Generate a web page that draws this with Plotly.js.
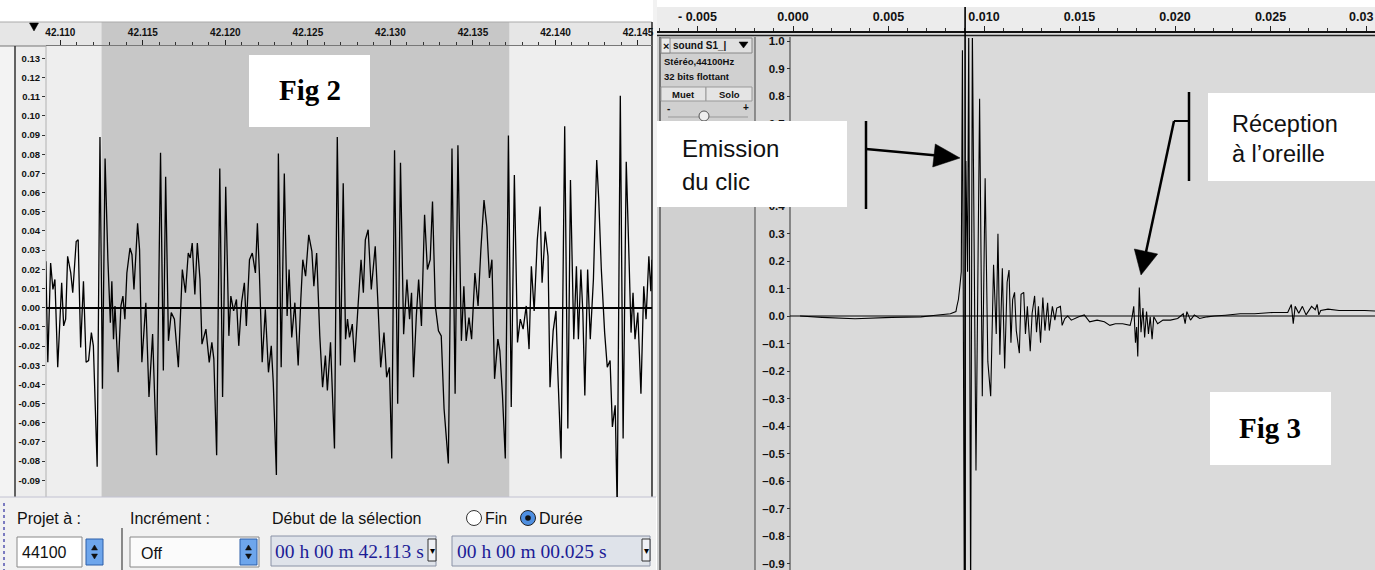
<!DOCTYPE html>
<html>
<head>
<meta charset="utf-8">
<script src="https://cdn.plot.ly/plotly-3.0.1.min.js"></script>
<style>html,body{margin:0;padding:0;background:#fff;}#chart{width:1375px;height:570px;}</style>
</head>
<body>
<div id="chart"></div>
<script>
// ---------------- DATA ----------------
// Fig 2 : waveform (time in s, amplitude)
const fig2Time = [42.10912,42.10924,42.10941,42.10955,42.10967,42.10984,42.11008,42.11020,42.11032,42.11044,
42.11063,42.11075,42.11096,42.11108,42.11123,42.11140,42.11156,42.11171,42.11188,42.11200,
42.11223,42.11240,42.11255,42.11271,42.11288,42.11303,42.11312,42.11322,42.11331,42.11350,
42.11367,42.11379,42.11391,42.11403,42.11422,42.11434,42.11446,42.11468,42.11480,42.11494,
42.11518,42.11537,42.11559,42.11583,42.11607,42.11624,42.11638,42.11655,42.11672,42.11691,
42.11715,42.11739,42.11758,42.11775,42.11787,42.11799,42.11815,42.11830,42.11846,42.11858,
42.11882,42.11902,42.11918,42.11930,42.11947,42.11966,42.11983,42.12002,42.12021,42.12033,
42.12050,42.12067,42.12081,42.12098,42.12115,42.12127,42.12146,42.12163,42.12182,42.12194,
42.12206,42.12223,42.12242,42.12261,42.12278,42.12290,42.12309,42.12321,42.12338,42.12357,
42.12374,42.12386,42.12402,42.12421,42.12441,42.12457,42.12469,42.12486,42.12505,42.12524,
42.12536,42.12553,42.12572,42.12589,42.12606,42.12618,42.12637,42.12661,42.12678,42.12697,
42.12714,42.12728,42.12740,42.12752,42.12769,42.12783,42.12805,42.12822,42.12836,42.12848,
42.12865,42.12884,42.12908,42.12925,42.12941,42.12961,42.12977,42.12994,42.13008,42.13025,
42.13044,42.13061,42.13080,42.13100,42.13116,42.13128,42.13140,42.13157,42.13171,42.13188,
42.13207,42.13224,42.13241,42.13255,42.13272,42.13291,42.13308,42.13325,42.13351,42.13373,
42.13392,42.13409,42.13430,42.13445,42.13459,42.13476,42.13492,42.13512,42.13531,42.13548,
42.13567,42.13584,42.13600,42.13615,42.13631,42.13651,42.13663,42.13679,42.13696,42.13715,
42.13732,42.13751,42.13770,42.13787,42.13804,42.13823,42.13840,42.13854,42.13871,42.13890,
42.13907,42.13919,42.13938,42.13955,42.13967,42.13986,42.14003,42.14015,42.14034,42.14056,
42.14075,42.14091,42.14111,42.14127,42.14139,42.14154,42.14166,42.14178,42.14195,42.14211,
42.14230,42.14250,42.14262,42.14278,42.14298,42.14314,42.14331,42.14345,42.14362,42.14374,
42.14393,42.14410,42.14429,42.14446,42.14458,42.14470,42.14482,42.14499,42.14518,42.14535,
42.14549,42.14566,42.14578,42.14585];
const fig2Amp = [0.0242,-0.0285,0.0233,0.0095,0.0147,-0.0311,0.0130,-0.0095,-0.0060,0.0268,
0.0181,0.0078,0.0345,0.0354,-0.0207,0.0138,-0.0285,-0.0276,-0.0130,-0.0199,
-0.0829,0.0889,-0.0423,0.0777,0.0250,-0.0078,0.0138,-0.0164,0.0009,-0.0337,
0.0009,0.0060,-0.0060,0.0181,0.0311,0.0276,0.0095,0.0440,0.0302,-0.0285,
0.0026,-0.0466,-0.0138,-0.0769,0.0807,-0.0328,0.0682,-0.0173,-0.0026,-0.0060,
-0.0311,0.0199,0.0078,0.0285,0.0259,0.0337,0.0069,0.0337,0.0147,-0.0190,
-0.0112,-0.0285,-0.0181,-0.0268,-0.0769,0.0725,-0.0466,0.0630,-0.0147,0.0060,
-0.0017,0.0043,-0.0199,0.0026,0.0130,-0.0095,0.0250,0.0285,0.0181,0.0440,
0.0181,-0.0285,-0.0009,-0.0337,-0.0199,-0.0389,-0.0872,0.0803,-0.0311,0.0699,
-0.0043,0.0199,-0.0155,0.0026,-0.0302,0.0043,0.0250,0.0164,0.0380,0.0294,
0.0112,0.0285,-0.0147,-0.0415,-0.0250,-0.0432,-0.0181,-0.0734,0.0889,-0.0302,
0.0648,-0.0164,-0.0060,-0.0155,-0.0086,-0.0285,0.0026,0.0250,0.0078,0.0354,
0.0406,0.0095,0.0320,0.0009,-0.0311,-0.0130,-0.0363,-0.0311,-0.0786,0.0820,
-0.0501,0.0755,-0.0138,0.0147,-0.0060,0.0078,-0.0363,-0.0043,0.0147,-0.0095,
0.0484,0.0199,0.0250,0.0553,0.0009,-0.0121,-0.0147,-0.0527,-0.0812,0.0829,
-0.0449,0.0846,-0.0173,0.0112,-0.0173,-0.0052,-0.0164,0.0181,0.0009,0.0302,
0.0561,0.0423,0.0155,0.0250,-0.0371,-0.0164,-0.0225,-0.0458,-0.0786,0.0898,
-0.0518,0.0691,-0.0181,-0.0060,-0.0112,0.0009,-0.0216,0.0216,-0.0017,0.0354,
0.0527,0.0130,0.0397,0.0268,-0.0415,-0.0121,-0.0017,-0.0354,-0.0786,0.0945,
-0.0630,0.0665,-0.0164,0.0216,-0.0164,0.0199,-0.0026,-0.0458,0.0199,-0.0164,
0.0147,0.0769,0.0570,0.0199,-0.0130,-0.0311,-0.0276,-0.0622,-0.0509,-0.1050,
0.1105,-0.0682,0.0760,0.0250,-0.0130,0.0078,-0.0164,-0.0026,-0.0449,0.0112,
-0.0060,0.0268,0.0086,0.0250];
const fig2SelStart = 42.1125;
const fig2SelEnd = 42.1372;
const fig2YTicks = [0.13,0.12,0.11,0.10,0.09,0.08,0.07,0.06,0.05,0.04,0.03,0.02,0.01,0.00,
-0.01,-0.02,-0.03,-0.04,-0.05,-0.06,-0.07,-0.08,-0.09];

// Fig 3 : click and its echo (time in s, amplitude)
const fig3Time = [0.00037,0.00152,0.00325,0.00517,0.00670,0.00747,0.00824,0.00853,0.00858,0.00866,
0.00874,0.00881,0.00887,0.00897,0.00905,0.00914,0.00920,0.00930,0.00939,0.00958,
0.00977,0.00991,0.01006,0.01020,0.01035,0.01050,0.01064,0.01073,0.01083,0.01096,
0.01108,0.01121,0.01131,0.01141,0.01150,0.01160,0.01169,0.01185,0.01194,0.01208,
0.01217,0.01227,0.01242,0.01252,0.01265,0.01275,0.01285,0.01296,0.01308,0.01319,
0.01333,0.01342,0.01358,0.01371,0.01381,0.01400,0.01409,0.01423,0.01438,0.01457,
0.01496,0.01525,0.01553,0.01592,0.01630,0.01659,0.01688,0.01726,0.01765,0.01774,
0.01784,0.01793,0.01799,0.01805,0.01813,0.01822,0.01832,0.01841,0.01851,0.01861,
0.01870,0.01880,0.01889,0.01909,0.01937,0.01976,0.02014,0.02043,0.02053,0.02062,
0.02081,0.02101,0.02129,0.02168,0.02206,0.02264,0.02341,0.02417,0.02513,0.02590,
0.02609,0.02619,0.02629,0.02648,0.02667,0.02686,0.02715,0.02734,0.02744,0.02753,
0.02763,0.02801,0.02859,0.02917,0.02993,0.03047];
const fig3Amp = [0,-0.005,-0.010,-0.005,-0.003,0.003,0.008,0.016,0.035,0.060,
0.111,0.161,0.966,-1.05,0.564,0.161,1.05,-1.05,1.05,-0.562,
0.790,-0.292,0.501,-0.166,-0.292,0.186,-0.065,0.299,-0.141,0.174,
-0.191,0.123,0.167,-0.097,0.060,0.086,-0.053,-0.135,0.079,0.086,
-0.065,0.035,-0.128,0.010,0.073,-0.059,0.035,-0.097,0.067,-0.053,
0.048,-0.053,0.035,-0.015,0.029,0.035,-0.034,-0.009,0,-0.015,
-0.003,0.004,-0.021,-0.015,-0.021,-0.034,-0.028,-0.028,-0.034,-0.009,
0.035,-0.097,-0.040,-0.147,0.104,-0.059,0.029,-0.078,0.016,-0.065,
-0.003,-0.084,-0.003,-0.028,-0.015,-0.015,-0.009,0.008,-0.028,0.016,
-0.015,0.004,-0.009,-0.003,0,0.003,0.008,0.008,0.013,0.013,
0.042,-0.028,0.035,0.010,0.035,0.004,0.035,0.023,0.042,0.004,
0.020,0.025,0.020,0.020,0.020,0.018];
const fig3Cursor = 0.00901;
const fig3TickVals = [-0.005,0.000,0.005,0.010,0.015,0.020,0.025,0.030];
const fig3TickText = ['- 0.005','0.000','0.005','0.010','0.015','0.020','0.025',''];
const fig3EdgeLabel = '0.03'; // last ruler label, shown against the right edge
const fig3YTicks = [1.0,0.9,0.8,0.7,0.6,0.5,0.4,0.3,0.2,0.1,0.0,-0.1,-0.2,-0.3,-0.4,-0.5,-0.6,-0.7,-0.8,-0.9];
const fig3HiddenTicks = [0.6, 0.5]; // covered by the "Emission du clic" label

// ---------------- DECORATION HELPERS ----------------
const W = 1375, H = 570;
const X = x => x / W, Y = y => 1 - y / H;
const shapes = [], annotations = [];
const SANS = 'Liberation Sans, Arial, sans-serif';
const SERIF = 'Liberation Serif, Times New Roman, serif';
function rect(x0, y0, x1, y1, fill, o = {}) {
  shapes.push({type:'rect', xref:'paper', yref:'paper', x0:X(x0), x1:X(x1), y0:Y(y1), y1:Y(y0),
    fillcolor:fill, line:{color:o.line || 'rgba(0,0,0,0)', width:o.lw || 0}, layer:o.layer || 'below'});
}
function seg(x0, y0, x1, y1, color, width, o = {}) {
  shapes.push({type:'line', xref:'paper', yref:'paper', x0:X(x0), y0:Y(y0), x1:X(x1), y1:Y(y1),
    line:{color, width, dash:o.dash || 'solid'}, layer:o.layer || 'below'});
}
function poly(pts, fill, layer) {
  shapes.push({type:'path', xref:'paper', yref:'paper',
    path:'M' + pts.map(p => X(p[0]).toFixed(5) + ',' + Y(p[1]).toFixed(5)).join('L') + 'Z',
    fillcolor:fill, line:{color:fill, width:0.5}, layer:layer || 'above'});
}
function circ(cx, cy, r, fill, lc, lw, layer) {
  shapes.push({type:'circle', xref:'paper', yref:'paper', x0:X(cx - r), x1:X(cx + r), y0:Y(cy + r), y1:Y(cy - r),
    fillcolor:fill, line:{color:lc, width:lw}, layer:layer || 'below'});
}
function txt(x, y, t, size, o = {}) {
  annotations.push({xref:'paper', yref:'paper', x:X(x), y:Y(y), text:t, showarrow:false,
    xanchor:o.anchor || 'left', yanchor:'middle', align:o.anchor === 'center' ? 'center' : 'left', borderpad:0,
    font:{family:o.family || SANS, size, color:o.color || '#111', weight:o.weight || 'normal'}});
}
function spinner(x0, y0, x1, y1) {
  rect(x0, y0, x1, y1, '#6ea6ec', {line:'#2d5ea8', lw:1});
  const cx = (x0 + x1) / 2, cy = (y0 + y1) / 2;
  poly([[cx - 3, cy - 2], [cx + 3, cy - 2], [cx, cy - 7]], '#111', 'below');
  poly([[cx - 3, cy + 2], [cx + 3, cy + 2], [cx, cy + 7]], '#111', 'below');
}

// ---------- left panel (Fig 2) backgrounds ----------
rect(0, 22, 652, 46, '#e6e6e6');
rect(0, 46, 15, 497, '#f3f3f3');
rect(15, 46, 46, 497, '#ededed');
rect(46, 46, 652, 497, '#eeeeee');
// selection (time-based)
shapes.push({type:'rect', xref:'x', yref:'paper', x0:fig2SelStart, x1:fig2SelEnd, y0:Y(497), y1:Y(22),
  fillcolor:'#c7c7c7', line:{width:0}, layer:'below'});
seg(0, 22, 652, 22, '#aaaaaa', 1);
seg(0, 46, 46, 46, '#777777', 1);
seg(15, 46, 15, 497, '#333333', 1.5);
seg(46, 46, 46, 497, '#b0b0b0', 1);
rect(653, 0, 657, 497, '#f2f2f2');
seg(652, 22, 652, 497, '#222222', 1.5);
poly([[29.5, 23], [38.5, 23], [34, 31]], '#000', 'above');

// ---------- left toolbar ----------
rect(0, 497, 656, 570, '#f1f1f1');
seg(0, 497, 656, 497, '#c2c2d2', 1);
seg(4, 503, 4, 570, '#7a7ac0', 2, {dash:'dot'});
txt(16, 518, 'Projet à :', 16);
txt(129, 518, 'Incrément :', 16);
txt(271, 518, 'Début de la sélection', 16);
circ(474, 518, 7.5, '#ffffff', '#333', 1);
txt(484, 518, 'Fin', 16);
circ(528, 518, 7.5, '#4f8fe0', '#222', 1);
circ(528, 518, 2.8, '#111', '#111', 0);
txt(538, 518, 'Durée', 16);
rect(17, 537, 82, 567, '#ffffff', {line:'#888', lw:1});
txt(21, 552, '44100', 16);
spinner(86, 539, 103, 565);
seg(122, 528, 122, 570, '#444', 1.2);
rect(130, 537, 259, 567, '#fbfbfb', {line:'#888', lw:1});
txt(140, 553, 'Off', 16);
spinner(240, 539, 257, 565);
const hmsColor = '#1c1c96';
rect(271, 536, 436, 566, '#dfe3ea', {line:'#8a92a6', lw:1});
txt(274, 551, '00 h 00 m 42.113 s', 19.5, {family:SERIF, color:hmsColor});
rect(428, 539, 436, 561, '#eef0f5', {line:'#333', lw:1});
txt(432, 550, '▾', 10, {anchor:'center', color:'#000'});
rect(452, 536, 650, 566, '#dfe3ea', {line:'#8a92a6', lw:1});
txt(456, 551, '00 h 00 m 00.025 s', 19.5, {family:SERIF, color:hmsColor});
rect(642, 539, 650, 561, '#eef0f5', {line:'#333', lw:1});
txt(646, 550, '▾', 10, {anchor:'center', color:'#000'});

// ---------- right panel (Fig 3) backgrounds ----------
rect(657, 7, 1375, 31, '#ececec');
rect(657, 31, 1375, 37, '#dcdcdc');
seg(657, 35.5, 1375, 35.5, '#222', 1.5);
rect(657, 37, 755, 570, '#d0d0d0');
rect(755, 37, 790, 570, '#d6d6d6');
rect(790, 37, 1375, 570, '#dadada');
seg(660, 37, 660, 570, '#555', 1.5);
seg(755, 37, 755, 570, '#444', 1);
seg(790, 37, 790, 570, '#333', 1);
txt(1374, 17, fig3EdgeLabel, 12.5, {anchor:'right', weight:'bold'});
// track control panel
rect(661, 38, 752, 53, '#e0e0e0', {line:'#888', lw:1});
rect(661, 38, 670, 53, '#ebebeb', {line:'#888', lw:1});
txt(665.5, 45.5, '×', 11, {anchor:'center', weight:'bold'});
txt(672, 45.5, 'sound S1_|', 10, {weight:'bold'});
poly([[739, 42], [748, 42], [743.5, 48]], '#000', 'below');
txt(663, 61, 'Stéréo,44100Hz', 9.5, {weight:'bold'});
txt(663, 77, '32 bits flottant', 9.5, {weight:'bold'});
rect(661, 87, 706, 101, '#e4e4e4', {line:'#999', lw:1});
rect(706, 87, 752, 101, '#e4e4e4', {line:'#999', lw:1});
txt(683.5, 94, 'Muet', 9.5, {anchor:'center', weight:'bold'});
txt(729, 94, 'Solo', 9.5, {anchor:'center', weight:'bold'});
txt(668, 108, '-', 10, {anchor:'center', weight:'bold'});
txt(746, 107, '+', 10, {anchor:'center', weight:'bold'});
seg(668, 117, 748, 117, '#999', 1);
circ(704, 116, 5, '#eeeeee', '#555', 1);

// edit cursor
shapes.push({type:'line', xref:'x2', yref:'paper', x0:fig3Cursor, x1:fig3Cursor, y0:Y(7), y1:0,
  line:{color:'#000', width:1.6}, layer:'above'});

// ---------- labels / boxes / arrows ----------
rect(249, 55, 370, 127, '#ffffff', {layer:'above'});
txt(310, 90, 'Fig 2', 29, {anchor:'center', family:SERIF, weight:'bold', color:'#000'});
rect(1210, 392, 1331, 465, '#ffffff', {layer:'above'});
txt(1270, 428, 'Fig 3', 29, {anchor:'center', family:SERIF, weight:'bold', color:'#000'});
rect(657, 121, 847, 207, '#ffffff', {layer:'above'});
txt(681, 149, 'Emission', 24, {color:'#111'});
txt(681, 181, 'du clic', 24, {color:'#111'});
rect(1208, 93, 1375, 181, '#ffffff', {layer:'above'});
txt(1231, 124, 'Réception', 23.5, {color:'#111'});
txt(1231, 154, 'à l’oreille', 23.5, {color:'#111'});
// emission pointer
seg(866, 121, 866, 209, '#000', 2.5, {layer:'above'});
seg(866, 149, 937, 155.5, '#000', 2.5, {layer:'above'});
poly([[960, 158], [935.3, 144], [932.7, 167]], '#000', 'above');
// reception pointer
seg(1189, 92, 1189, 181, '#000', 2.5, {layer:'above'});
seg(1189, 121, 1174, 121, '#000', 2, {layer:'above'});
seg(1174, 121, 1146, 252, '#000', 2.5, {layer:'above'});
poly([[1141, 275], [1157.7, 254], [1134.3, 249]], '#000', 'above');

// ---------------- PLOT ----------------
const tickFontL = {family:SANS, size:10, color:'#111', weight:'bold'};
const traces = [
  {type:'scatter', mode:'lines', x:fig2Time, y:fig2Amp, xaxis:'x', yaxis:'y',
   line:{color:'#000', width:1.3, simplify:false}, hoverinfo:'skip'},
  {type:'scatter', mode:'lines', x:fig3Time, y:fig3Amp, xaxis:'x2', yaxis:'y2',
   line:{color:'#000', width:1.1, simplify:false}, hoverinfo:'skip'}
];
shapes.push({type:'line', xref:'paper', yref:'y2', x0:X(790), x1:1, y0:0, y1:0,
  line:{color:'#000', width:1}, layer:'above'});

const layout = {
  width:W, height:H, margin:{l:0, r:0, t:0, b:0, pad:0},
  paper_bgcolor:'#ffffff', plot_bgcolor:'rgba(0,0,0,0)', showlegend:false,
  xaxis:{domain:[X(46), X(652)], range:[42.10913, 42.14585], side:'top', anchor:'y',
    tickmode:'linear', tick0:42.110, dtick:0.005, tickformat:'.3f',
    ticks:'outside', ticklen:5, tickwidth:1, tickcolor:'#222', tickfont:tickFontL,
    showline:true, linecolor:'#777', linewidth:1, showgrid:false, zeroline:false,
    minor:{ticks:'outside', ticklen:3, tickwidth:1, dtick:0.001, tick0:42.110, tickcolor:'#333', showgrid:false},
    fixedrange:true},
  yaxis:{domain:[Y(497), Y(46)], range:[-0.0987, 0.1364], anchor:'x',
    tickmode:'array', tickvals:fig2YTicks, ticktext:fig2YTicks.map(v => v.toFixed(2)),
    ticks:'outside', ticklen:3, tickcolor:'#333', tickfont:{family:SANS, size:9.5, color:'#111', weight:'bold'},
    showline:false, showgrid:false, zeroline:true, zerolinecolor:'#000', zerolinewidth:2, fixedrange:true},
  xaxis2:{domain:[X(657), 1], range:[-0.00712, 0.03047], side:'top', anchor:'free', position:Y(31),
    tickmode:'array', tickvals:fig3TickVals, ticktext:fig3TickText,
    ticks:'outside', ticklen:5, tickwidth:1, tickcolor:'#222',
    tickfont:{family:SANS, size:12.5, color:'#111', weight:'bold'},
    showline:true, linecolor:'#111', linewidth:1.5, showgrid:false, zeroline:false,
    minor:{ticks:'outside', ticklen:3, tickwidth:1, dtick:0.001, tick0:0, tickcolor:'#333', showgrid:false},
    fixedrange:true},
  yaxis2:{domain:[0, Y(38)], range:[-0.9236, 1.0109], anchor:'free', position:X(790), side:'left',
    tickmode:'array', tickvals:fig3YTicks,
    ticktext:fig3YTicks.map(v => fig3HiddenTicks.includes(v) ? '' : v.toFixed(1).replace('-', '–')),
    ticks:'outside', ticklen:3, tickcolor:'#333',
    tickfont:{family:SANS, size:11.5, color:'#111', weight:'bold'},
    showline:false, showgrid:false, zeroline:false, fixedrange:true},
  shapes, annotations
};
Plotly.newPlot('chart', traces, layout, {staticPlot:true, displayModeBar:false});
</script>
</body>
</html>
